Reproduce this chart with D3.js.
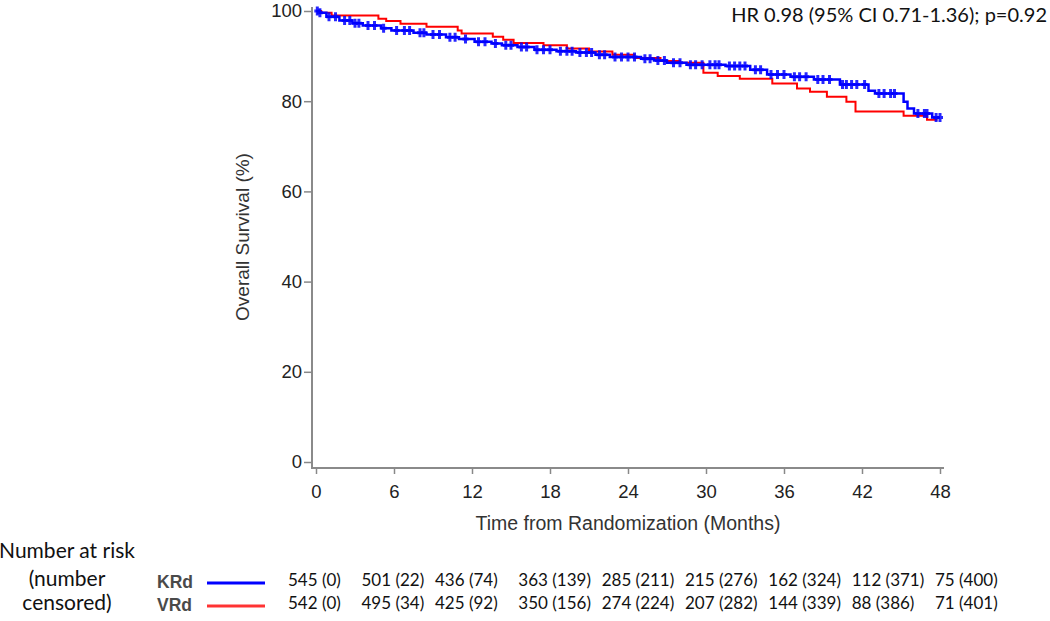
<!DOCTYPE html>
<html>
<head>
<meta charset="utf-8">
<script src="https://cdn.jsdelivr.net/npm/d3@7"></script>
<style>
  body { margin: 0; background: #fff; }
  svg { display: block; }
  .tick text { font-family: "Liberation Sans", Arial, sans-serif; font-size: 18.5px; fill: #222; }
  .tick line { stroke: #888; stroke-width: 1.5; }
  .label { font-family: "Liberation Sans", Arial, sans-serif; font-size: 19px; fill: #333; }
  .risk { font-family: Lato, "Open Sans", sans-serif; font-size: 17px; fill: #111; }
  .riskhead { font-family: Lato, "Open Sans", sans-serif; font-size: 21px; fill: #111; }
</style>
</head>
<body>
<script>
// KRd (blue) step points: month, survival %
const krdTimes = [0, 0.3, 0.8, 1.8, 2.8, 3.6, 5.0, 5.8, 7.5, 8.5, 10.0, 11.0, 12.2, 13.5, 14.3, 15.5, 16.8, 18.5, 20.0, 21.5, 22.6, 25.0, 26.0, 27.0, 28.5, 31.5, 33.4, 34.7, 36.5, 38.3, 40.3, 42.5, 43.0, 45.2, 45.5, 46.0, 47.4, 48.0]
const krdSurv  = [100, 99.6, 98.7, 97.9, 97.3, 96.8, 96.2, 95.7, 95.2, 94.8, 94.2, 93.8, 93.2, 92.8, 92.4, 92.0, 91.4, 91.1, 90.8, 90.3, 89.8, 89.4, 89.0, 88.5, 88.1, 87.8, 87.0, 85.9, 85.4, 84.8, 83.7, 82.3, 81.7, 79.9, 78.4, 77.3, 76.4, 76.4]
// censored times on KRd curve
const krdCensor = [0.1, 0.3, 1.0, 1.5, 2.2, 2.6, 3.0, 3.3, 4.0, 4.5, 5.2, 6.2, 6.8, 7.2, 8.0, 8.3, 9.0, 9.5, 10.3, 10.7, 11.5, 12.5, 13.0, 13.8, 14.6, 15.0, 15.8, 16.2, 17.0, 17.5, 18.0, 18.8, 19.3, 19.7, 20.3, 20.8, 21.2, 21.8, 22.2, 23.0, 23.5, 24.0, 24.5, 25.3, 25.7, 26.3, 26.8, 27.5, 28.0, 28.8, 29.2, 29.7, 30.3, 30.7, 31.0, 31.8, 32.2, 32.6, 33.0, 33.8, 34.2, 35.0, 35.5, 36.0, 36.8, 37.2, 37.7, 38.6, 39.0, 39.5, 40.5, 40.8, 41.2, 41.6, 42.2, 43.3, 43.7, 44.2, 44.5, 46.3, 46.8, 47.0, 47.7, 48.0]

// VRd (red) step points
const vrdTimes = [0, 0.4, 1.2, 4.8, 5.4, 6.5, 8.5, 10.9, 11.2, 13.6, 14.4, 15.2, 17.5, 19.3, 21.0, 22.8, 24.5, 26.5, 28.0, 29.8, 30.9, 32.6, 35.1, 37.0, 38.0, 39.3, 40.8, 41.5, 45.2, 47.0, 47.8]
const vrdSurv  = [100, 99.6, 99.0, 98.3, 97.8, 97.2, 96.5, 95.7, 95.0, 94.3, 93.6, 92.9, 92.4, 91.7, 91.0, 90.3, 89.6, 88.9, 88.5, 86.3, 85.6, 85.0, 83.9, 82.8, 82.1, 81.0, 79.9, 77.7, 76.8, 75.9, 75.9]

const xTicks = [0, 6, 12, 18, 24, 30, 36, 42, 48]
const yTicks = [0, 20, 40, 60, 80, 100]

const arms = ["KRd", "VRd"]
const armColors = ["#0000ff", "#ff0000"]
const krdRisk = ["545 (0)", "501 (22)", "436 (74)", "363 (139)", "285 (211)", "215 (276)", "162 (324)", "112 (371)", "75 (400)"]
const vrdRisk = ["542 (0)", "495 (34)", "425 (92)", "350 (156)", "274 (224)", "207 (282)", "144 (339)", "88 (386)", "71 (401)"]
const riskHead = ["Number at risk", "(number", "censored)"]
const hrText = "HR 0.98 (95% CI 0.71-1.36); p=0.92"

let width = 1050;
let height = 621;

let svg = d3.select("body").append("svg")
    .attr("width", width)
    .attr("height", height)

const xScale = d3.scaleLinear().domain([0, 48]).range([316, 940])
const yScale = d3.scaleLinear().domain([0, 100]).range([462, 11])

// axis lines
svg.append("line")
    .attr("x1", 312).attr("x2", 312)
    .attr("y1", 7).attr("y2", 469)
    .attr("stroke", "#8a8a8a").attr("stroke-width", 2)
svg.append("line")
    .attr("x1", 311).attr("x2", 944)
    .attr("y1", 468).attr("y2", 468)
    .attr("stroke", "#8a8a8a").attr("stroke-width", 2)

let yAxis = d3.axisLeft(yScale).tickValues(yTicks).tickSize(8).tickPadding(2)
svg.append("g")
    .attr("transform", "translate(312,0)")
    .call(yAxis)
    .call(g => g.select(".domain").remove())

let xAxis = d3.axisBottom(xScale).tickValues(xTicks).tickSize(6).tickPadding(11)
svg.append("g")
    .attr("transform", "translate(0,468)")
    .call(xAxis)
    .call(g => g.select(".domain").remove())

svg.append("text")
    .attr("class", "label")
    .style("font-size", "19.5px")
    .attr("x", 628)
    .attr("y", 530)
    .attr("text-anchor", "middle")
    .text("Time from Randomization (Months)")

svg.append("text")
    .attr("class", "label")
    .attr("transform", "translate(249,237) rotate(-90)")
    .attr("text-anchor", "middle")
    .text("Overall Survival (%)")

// KM curves
const line = d3.line()
    .x(d => xScale(d[0]))
    .y(d => yScale(d[1]))
    .curve(d3.curveStepAfter)

const vrdPts = vrdTimes.map((t, i) => [t, vrdSurv[i]])
const krdPts = krdTimes.map((t, i) => [t, krdSurv[i]])

svg.append("path")
    .attr("d", line(vrdPts))
    .attr("fill", "none")
    .attr("stroke", armColors[1])
    .attr("stroke-width", 2)

svg.append("path")
    .attr("d", line(krdPts))
    .attr("fill", "none")
    .attr("stroke", armColors[0])
    .attr("stroke-width", 2.5)

const bis = d3.bisector(d => d).right
function survAt(t) {
    let i = bis(krdTimes, t) - 1
    return krdSurv[Math.max(0, i)]
}

let cg = svg.append("g")
    .attr("stroke", armColors[0])
    .attr("stroke-width", 3)
    .attr("stroke-opacity", 0.85)
cg.selectAll("path.cens")
    .data(krdCensor)
    .enter()
    .append("path")
    .attr("class", "cens")
    .attr("d", d => {
        let x = xScale(d), y = yScale(survAt(d))
        return "M" + x + "," + (y - 4.5) + "V" + (y + 4.5) + "M" + (x - 3) + "," + y + "H" + (x + 3)
    })

// HR annotation
svg.append("text")
    .attr("x", 1047)
    .attr("y", 22)
    .attr("text-anchor", "end")
    .style("font-family", "Lato, 'Open Sans', sans-serif")
    .style("font-size", "20px")
    .attr("fill", "#111")
    .text(hrText)

// number at risk table
svg.selectAll("text.riskhead")
    .data(riskHead)
    .enter()
    .append("text")
    .attr("class", "riskhead")
    .attr("x", 67)
    .attr("y", (d, i) => [558, 586, 610][i])
    .attr("text-anchor", "middle")
    .text(d => d)

const rowY = d3.scalePoint().domain(arms).range([586, 609])
const colX = d3.scaleLinear().domain([0, 2, 8]).range([288, 435, 935])

arms.forEach((arm, k) => {
    svg.append("text")
        .attr("x", 157)
        .attr("y", rowY(arm) + 2)
        .style("font-family", "'Liberation Sans', Arial, sans-serif")
        .style("font-size", "17.5px")
        .style("font-weight", "bold")
        .attr("fill", "#4a4a4a")
        .text(arm)
    svg.append("line")
        .attr("x1", 207).attr("x2", 265)
        .attr("y1", rowY(arm) - 3).attr("y2", rowY(arm) - 3)
        .attr("stroke", armColors[k]).attr("stroke-width", 3)
        .attr("stroke-opacity", k == 1 ? 0.8 : 1)
    svg.selectAll("text.r" + k)
        .data(k == 0 ? krdRisk : vrdRisk)
        .enter()
        .append("text")
        .attr("class", "risk r" + k)
        .attr("x", (d, i) => colX(i))
        .attr("y", rowY(arm))
        .text(d => d)
})
</script>
</body>
</html>
